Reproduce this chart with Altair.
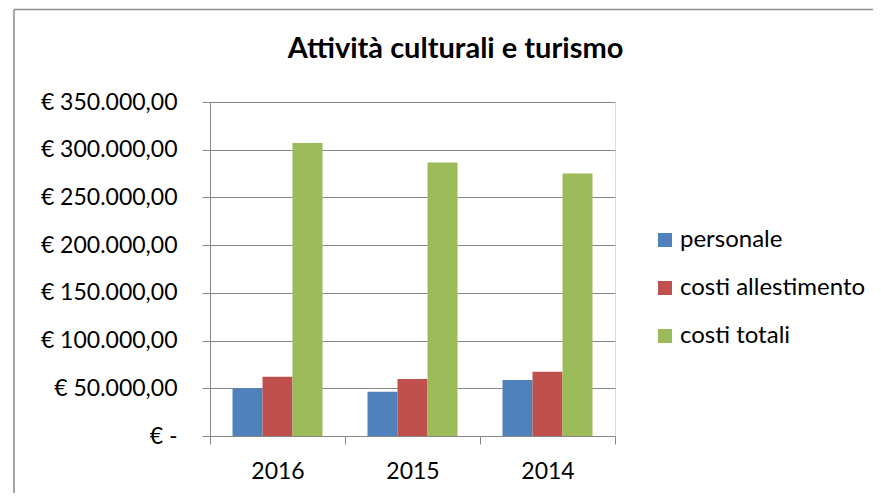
import altair as alt
import pandas as pd

years = ["2016", "2015", "2014"]
series = ["personale", "costi allestimento", "costi totali"]
personale = [50000, 46500, 58700]
costi_allestimento = [62000, 59700, 67400]
costi_totali = [307000, 286500, 275000]
colors = ["#4F81BD", "#C0504D", "#9BBB59"]
y_ticks = [0, 50000, 100000, 150000, 200000, 250000, 300000, 350000]

rows = []
for name, vals in zip(series, [personale, costi_allestimento, costi_totali]):
    for y, v in zip(years, vals):
        rows.append({"anno": y, "voce": name, "valore": v})
df = pd.DataFrame(rows)

FONT = "Lato"
GRID = "#868686"

label_expr = (
    "datum.value == 0 ? '€ -' : '€ ' + replace(replace(replace("
    "format(datum.value, ',.2f'), ',', '#'), '.', ','), '#', '.')"
)

bars = alt.Chart(df).mark_bar().encode(
    x=alt.X(
        "anno:N",
        sort=years,
        scale=alt.Scale(paddingInner=0, paddingOuter=0),
        axis=alt.Axis(
            title=None,
            labelAngle=0,
            tickBand="extent",
            tickSize=8,
            labelPadding=16,
            labelFontSize=23,
            labelFont=FONT,
            labelColor="black",
            domainColor=GRID,
            tickColor=GRID,
            grid=False,
        ),
    ),
    xOffset=alt.XOffset(
        "voce:N", sort=series, scale=alt.Scale(paddingInner=0, paddingOuter=0.75)
    ),
    y=alt.Y(
        "valore:Q",
        scale=alt.Scale(domain=[0, 350000], nice=False),
        axis=alt.Axis(
            title=None,
            values=y_ticks,
            labelExpr=label_expr,
            tickSize=8,
            labelPadding=25,
            labelFontSize=23,
            labelFont=FONT,
            labelColor="black",
            domainColor=GRID,
            tickColor=GRID,
            gridColor=GRID,
            gridWidth=1.2,
            grid=True,
        ),
    ),
    color=alt.Color(
        "voce:N",
        sort=series,
        scale=alt.Scale(domain=series, range=colors),
        legend=alt.Legend(
            title=None,
            orient="none",
            legendX=443,
            legendY=126,
            padding=0,
            symbolType="square",
            symbolSize=196,
            symbolStrokeWidth=0,
            symbolOpacity=1,
            labelFontSize=24,
            labelFont=FONT,
            labelColor="black",
            labelOffset=3,
            labelLimit=400,
            rowPadding=24,
        ),
    ),
)

frame_left = alt.Chart(alt.Data(values=[{}])).mark_rule(
    color="#8c8c8c", strokeWidth=1.6
).encode(x=alt.value(-196), y=alt.value(-92.5), y2=alt.value(420))

frame_top = alt.Chart(alt.Data(values=[{}])).mark_rule(
    color="#8c8c8c", strokeWidth=1.6
).encode(x=alt.value(-196), x2=alt.value(700), y=alt.value(-92.5))

chart = (
    alt.layer(frame_left, frame_top, bars)
    .properties(
        width=405,
        height=334,
        autosize=alt.AutoSizeParams(type="none"),
        padding={"left": 202, "top": 94, "right": 258, "bottom": 57},
        title=alt.TitleParams(
            "Attività culturali e turismo",
            font=FONT,
            fontSize=29,
            fontWeight="bold",
            color="black",
            anchor="middle",
            dx=43,
            dy=55,
            offset=0,
        ),
    )
    .configure_view(stroke=None)
    .configure(background="white")
)

chart.save("out.html", embed_options={"renderer": "svg", "actions": False})
